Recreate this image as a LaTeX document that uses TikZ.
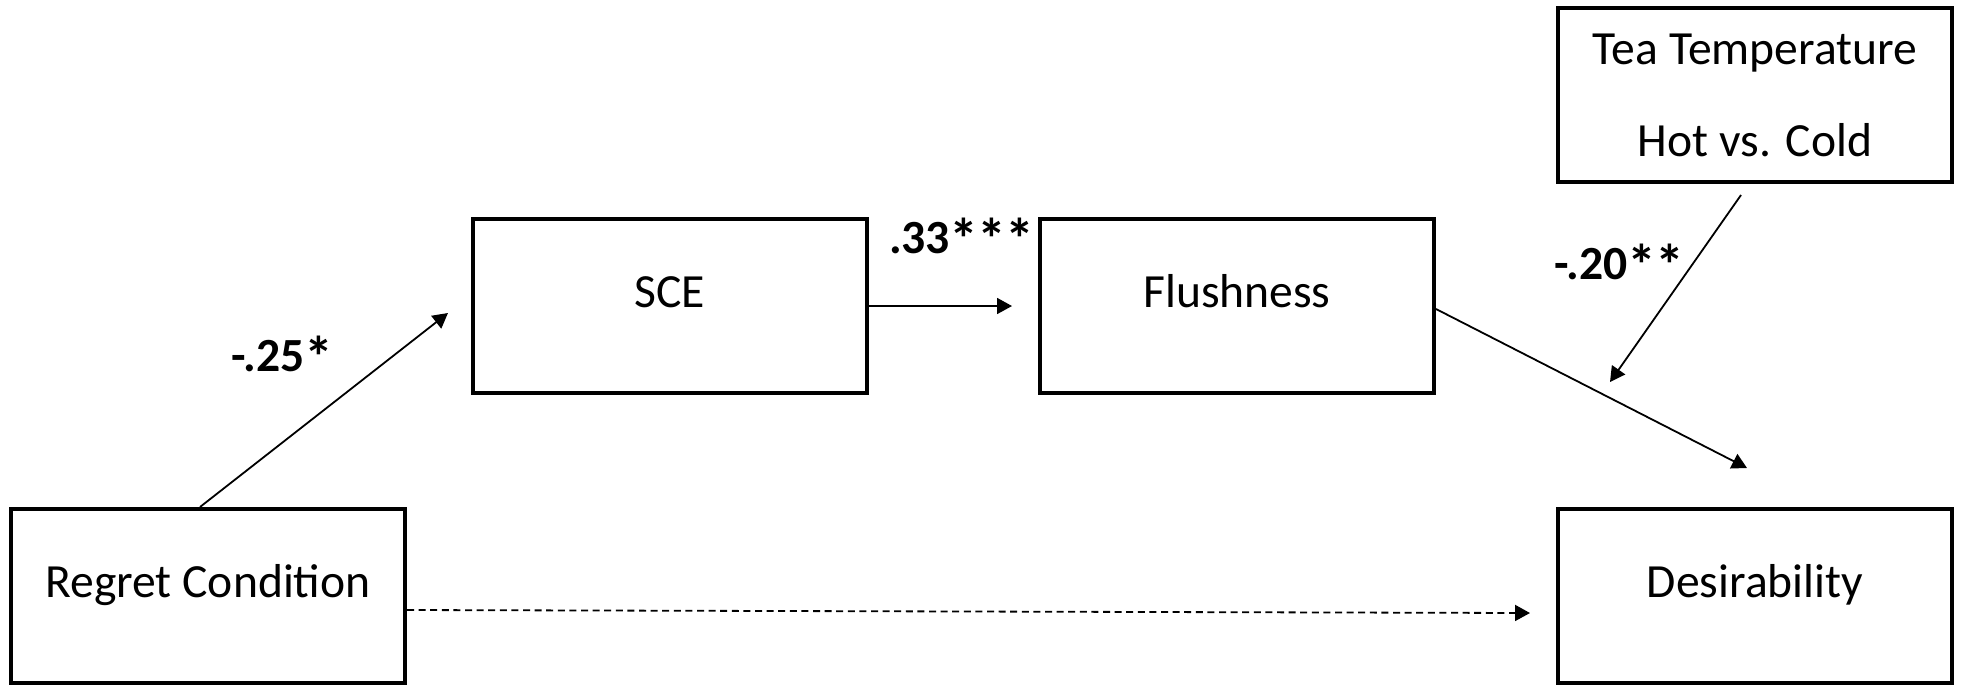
\documentclass[tikz,border=0pt]{standalone}
\usepackage{fontspec}
\setmainfont{Carlito}
\usetikzlibrary{positioning, arrows.meta, calc}
\newcommand{\sig}{\raisebox{-3.2pt}{\fontsize{29}{29}\selectfont *}\kern-0.6pt}

\begin{document}
\begin{tikzpicture}[
  x=0.5pt, y=-0.5pt,
  >={Triangle[length=7.5pt, width=8pt]},
  every node/.style={font=\fontsize{23.8}{46}\selectfont},
  var/.style   = {draw, line width=2pt, inner sep=0pt, minimum width=197pt, minimum height=87pt,
                  text height=0.75em, text depth=0.6em},
  modbox/.style = {draw, line width=2pt, inner sep=0pt, minimum width=197pt, minimum height=87pt, align=center},
  arr/.style   = {->, line width=0.9pt},
  coef/.style  = {font=\fontsize{23.8}{28}\selectfont\bfseries},
]
  \useasboundingbox (0,0) rectangle (1963,687);
  % boxes
  \node[var]    (regret) at (208,596) {Regret Condition};
  \node[var]    (sce)    at (670,306) {SCE};
  \node[var]    (flush)  at (1237,306) {Flushness};
  \node[var]    (desir)  at (1755,596) {Desirability};
  \node[modbox] (tea)    at (1755,95)  {Tea Temperature\\Hot vs. Cold};
  % free ends of the paths
  \coordinate (sceIn)   at (448,313);
  \coordinate (flushIn) at (1012,306);
  \coordinate (desIn)   at (1747,468);
  \coordinate (modIn)   at (1610,382);
  \coordinate (dirIn)   at (1530,613);
  \draw[arr] ($(regret.north)+(-8,0)$) -- (sceIn);
  \draw[arr] (sce.east) -- (flushIn);
  \draw[arr] ($(flush.east)+(0,3)$) -- (desIn);
  \draw[arr] ($(tea.south)+(-14,11)$) -- (modIn);
  \draw[arr, dash pattern=on 3.5pt off 2.3pt] ($(regret.east)+(0,14)$) -- (dirIn);
  % coefficients
  \node[coef] (aLab) at (282,357) {-.25\sig};
  \node[coef] (bLab) at (961,239) {.33\sig\sig\sig};
  \node[coef] (cLab) at (1619,265) {-.20\sig\sig};
\end{tikzpicture}
\end{document}
